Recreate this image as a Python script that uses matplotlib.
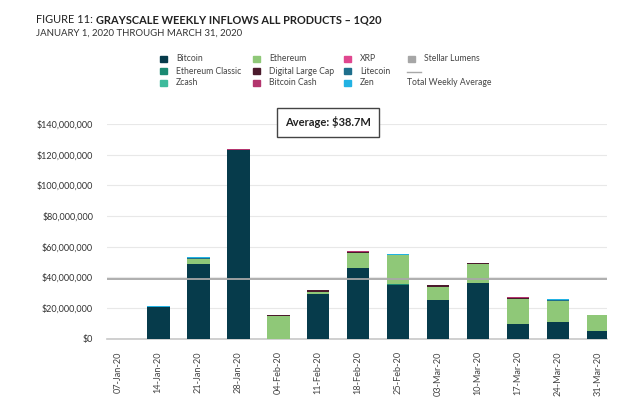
import numpy as np
import matplotlib.pyplot as plt
import matplotlib.patches as mpatches
from matplotlib.lines import Line2D
from matplotlib.ticker import FuncFormatter

plt.rcParams['font.family'] = ['Lato', 'DejaVu Sans']

# weekly inflows, in USD millions
weeks = ['07-Jan-20', '14-Jan-20', '21-Jan-20', '28-Jan-20', '04-Feb-20', '11-Feb-20',
         '18-Feb-20', '25-Feb-20', '03-Mar-20', '10-Mar-20', '17-Mar-20', '24-Mar-20',
         '31-Mar-20']
bitcoin = [0, 20.5, 48.8, 123.0, 0, 29.0, 46.4, 35.0, 25.1, 36.2, 9.8, 10.7, 5.2]
ethereum_classic = [0, 0, 0, 0, 0, 0, 0, 0.5, 0, 0, 0, 0, 0]
zcash = [0, 0, 0, 0, 0, 0, 0, 0, 0, 0, 0, 0, 0]
ethereum = [0, 0, 3.1, 0, 14.6, 1.7, 9.8, 19.0, 8.9, 12.4, 16.4, 14.2, 10.3]
digital_large_cap = [0, 0, 0, 0, 0.8, 1.0, 0.4, 0, 0.7, 0.7, 0.3, 0, 0]
bitcoin_cash = [0, 0, 0, 0.5, 0, 0, 0.3, 0, 0, 0, 0.5, 0, 0]
xrp = [0, 0, 0, 0.4, 0, 0, 0, 0, 0, 0, 0, 0, 0]
litecoin = [0, 0.3, 0.5, 0, 0, 0, 0, 0.3, 0, 0, 0, 0.4, 0]
zen = [0, 0.4, 0.8, 0, 0, 0, 0, 0.4, 0, 0, 0, 0.3, 0]
stellar_lumens = [0, 0, 0, 0, 0, 0, 0, 0, 0, 0, 0, 0, 0]
weekly_average = 38.7

series = [
    ('Bitcoin', bitcoin, '#063b4b'),
    ('Ethereum Classic', ethereum_classic, '#1b8a72'),
    ('Zcash', zcash, '#3dbb9c'),
    ('Ethereum', ethereum, '#8fc878'),
    ('Digital Large Cap', digital_large_cap, '#4b1a2c'),
    ('Bitcoin Cash', bitcoin_cash, '#b3356e'),
    ('XRP', xrp, '#e0478f'),
    ('Litecoin', litecoin, '#1e6f8c'),
    ('Zen', zen, '#22b2e3'),
    ('Stellar Lumens', stellar_lumens, '#a6a6a6'),
]

fig = plt.figure(figsize=(6.42, 3.98), dpi=100)
ax = fig.add_axes([0.1667, 0.149, 0.779, 0.5395])

x = np.arange(len(weeks))
bottom = np.zeros(len(weeks))
for name, vals, color in series:
    vals = np.array(vals) * 1e6
    ax.bar(x, vals, width=0.57, bottom=bottom, color=color, zorder=3)
    bottom += vals

ax.axhline(weekly_average * 1e6, color='#a8a8a8', lw=1.3, zorder=4)

ax.set_ylim(0, 140e6)
ax.set_yticks(np.arange(0, 141e6, 20e6))
ax.yaxis.set_major_formatter(FuncFormatter(lambda v, p: '${:,.0f}'.format(v)))
ax.set_xlim(-0.28, 12.23)
ax.set_xticks(x)
ax.set_xticklabels(weeks, rotation=90)
ax.grid(axis='y', color='#e8e8e8', lw=0.8, zorder=0)
for s in ['top', 'right', 'left']:
    ax.spines[s].set_visible(False)
ax.spines['bottom'].set_color('#c8c8c8')
ax.spines['bottom'].set_linewidth(1.2)
ax.tick_params(axis='y', length=0, pad=10, labelsize=6.5, labelcolor='#333333')
ax.tick_params(axis='x', length=0, pad=9, labelsize=6.6, labelcolor='#444444')

# titles
t1 = fig.text(0.056, 0.95, 'FIGURE 11: ', fontsize=7.9, color='#222222', va='center')
ax.annotate('GRAYSCALE WEEKLY INFLOWS ALL PRODUCTS \u2013 1Q20', xy=(1, 0.5),
            xycoords=t1, va='center', fontsize=7.9, color='#222222',
            fontweight='bold', annotation_clip=False)
fig.text(0.056, 0.916, 'JANUARY 1, 2020 THROUGH MARCH 31, 2020', fontsize=6.9,
         color='#333333', va='center')

# legend drawn by hand to keep the reference layout
col_x = [160, 253, 344, 408]
row_y = [58.5, 71, 82.5]
order = [
    ['Bitcoin', 'Ethereum Classic', 'Zcash'],
    ['Ethereum', 'Digital Large Cap', 'Bitcoin Cash'],
    ['XRP', 'Litecoin', 'Zen'],
]
colors = {name: c for name, _, c in series}
W, H = 642.0, 398.0
for ci, names in enumerate(order):
    for ri, name in enumerate(names):
        px, py = col_x[ci], row_y[ri]
        fig.patches.append(mpatches.Rectangle((px / W, 1 - (py + 3) / H), 7 / W, 6 / H,
                                              transform=fig.transFigure,
                                              color=colors[name]))
        fig.text((px + 16) / W, 1 - py / H, name, fontsize=6.2, color='#444444',
                 va='center')
fig.patches.append(mpatches.Rectangle((408 / W, 1 - 61.5 / H), 7 / W, 6 / H,
                                      transform=fig.transFigure,
                                      color=colors['Stellar Lumens']))
fig.text(424 / W, 1 - 58.5 / H, 'Stellar Lumens', fontsize=6.2, color='#444444',
         va='center')
fig.lines.append(Line2D([407 / W, 421 / W], [1 - 71.5 / H, 1 - 71.5 / H],
                        transform=fig.transFigure, color='#a8a8a8', lw=1))
fig.text(407 / W, 1 - 82.5 / H, 'Total Weekly Average', fontsize=6.2, color='#444444',
         va='center')

fig.text(328 / W, 1 - 122.5 / H, 'Average: $38.7M', fontsize=8, fontweight='bold',
         color='#222222', ha='center', va='center',
         bbox=dict(boxstyle='square,pad=0.75', fc='white', ec='#444444', lw=1))

fig.savefig('out.png', dpi=100)
